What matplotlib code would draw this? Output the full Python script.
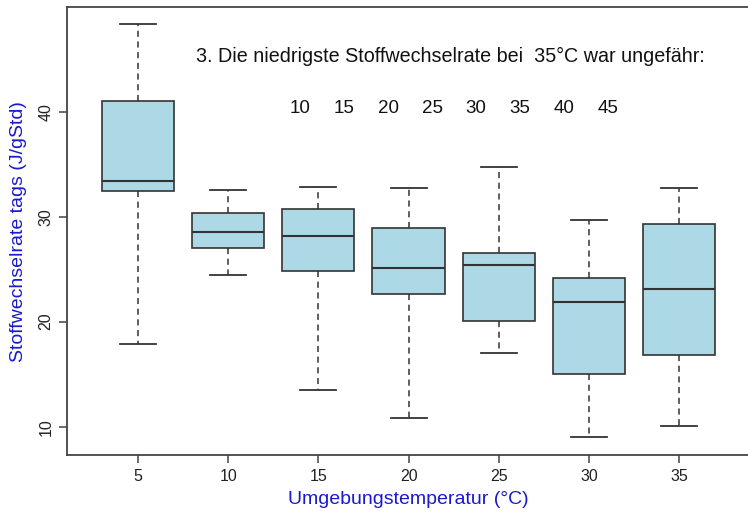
import matplotlib
matplotlib.use("Agg")
import matplotlib.pyplot as plt

plt.rcParams['font.family'] = ['Liberation Sans', 'DejaVu Sans']

temps = [5, 10, 15, 20, 25, 30, 35]
whislo = [17.85, 24.48, 13.5, 10.8, 16.99, 8.99, 10.10]
q1 = [32.48, 27.05, 24.83, 22.64, 20.10, 14.99, 16.86]
med = [33.37, 28.51, 28.16, 25.09, 25.40, 21.85, 23.09]
q3 = [41.02, 30.38, 30.70, 28.92, 26.57, 24.19, 29.28]
whishi = [48.35, 32.57, 32.86, 32.70, 34.76, 29.69, 32.70]

question = "3. Die niedrigste Stoffwechselrate bei  35°C war ungefähr:"
answers = [10, 15, 20, 25, 30, 35, 40, 45]

edge = '#333333'
axcol = '#444444'

fig = plt.figure(figsize=(7.48, 5.12), dpi=100)
ax = fig.add_axes([0.0892, 0.1113, 0.913, 0.8744])

stats = []
for i in range(len(temps)):
    stats.append(dict(med=med[i], q1=q1[i], q3=q3[i],
                      whislo=whislo[i], whishi=whishi[i], fliers=[]))

ax.bxp(stats, positions=range(1, len(temps) + 1), widths=0.8,
       patch_artist=True, showfliers=False,
       boxprops=dict(facecolor='#ADD8E6', edgecolor=edge, linewidth=1.2),
       medianprops=dict(color=edge, linewidth=1.5),
       whiskerprops=dict(color=edge, linewidth=1.1, linestyle=(0, (4, 3))),
       capprops=dict(color=edge, linewidth=1.3),
       capwidths=0.4)

ax.set_xlim(0.211, 7.78)
ax.set_ylim(7.30, 49.94)
ax.set_xticks(range(1, len(temps) + 1))
ax.set_xticklabels([str(t) for t in temps])
ax.set_yticks([10, 20, 30, 40])
ax.set_yticklabels(['10', '20', '30', '40'], rotation=90, va='center')

for s in ax.spines.values():
    s.set_color(axcol)
    s.set_linewidth(1.3)
ax.tick_params(axis='both', colors=axcol, labelcolor='#222222',
               length=6, width=1.1, labelsize=11.5)
ax.tick_params(axis='x', pad=4)
ax.tick_params(axis='y', pad=3.5)

ax.set_xlabel('Umgebungstemperatur (°C)', color='#1a1acc', fontsize=14,
              labelpad=5)
ax.set_ylabel('Stoffwechselrate tags (J/gStd)', color='#1a1acc',
              fontsize=14, labelpad=8)

ax.text(4.46, 45.24, question, ha='center', va='center', fontsize=14.2,
        color='#111111')
xs0, xs1 = 2.80, 6.21
for k, a in enumerate(answers):
    xp = xs0 + (xs1 - xs0) * k / (len(answers) - 1)
    ax.text(xp, 40.26, str(a), ha='center', va='center', fontsize=13.5,
            color='#111111')

fig.savefig('out.png', dpi=100)
